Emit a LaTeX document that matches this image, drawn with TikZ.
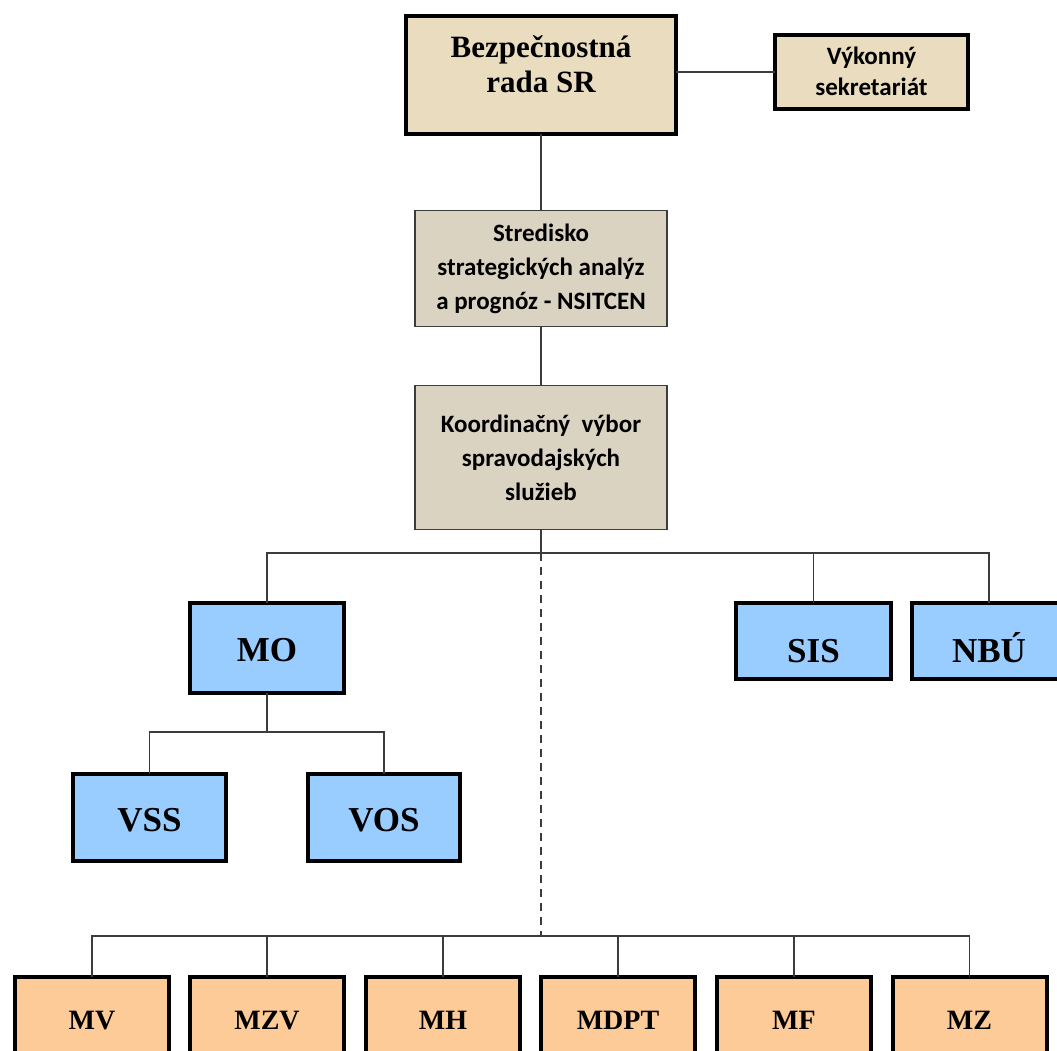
\documentclass[tikz,border=0pt]{standalone}
\usepackage{fontspec}
\setmainfont{Liberation Serif}
\newfontfamily\calib{Carlito}
\definecolor{parch}{HTML}{E9DCBF}
\definecolor{linen}{HTML}{DAD3C1}
\definecolor{skyb}{HTML}{99CCFF}
\definecolor{peach}{HTML}{FDCB98}
\definecolor{conncol}{HTML}{3C3C3C}
\begin{document}
\begin{tikzpicture}[x=1pt,y=-1pt,
  boxbase/.style={rectangle, inner sep=0pt, outer sep=0pt},
  heavybox/.style={boxbase, draw=black, line width=4pt},
  lightbox/.style={boxbase, draw=conncol, line width=1.2pt, fill=linen},
  parchbox/.style={heavybox, fill=parch},
  bluebox/.style={heavybox, fill=skyb},
  peachbox/.style={heavybox, fill=peach, minimum width=154pt, minimum height=96pt},
  seriftitle/.style={inner sep=0pt, align=center, font=\fontsize{31}{35}\selectfont\bfseries},
  sanstext/.style={inner sep=0pt, align=center, font=\calib\fontsize{25}{34}\selectfont\bfseries},
  vyktext/.style={inner sep=0pt, align=center, font=\calib\fontsize{25}{31}\selectfont\bfseries},
  bigabbr/.style={inner sep=0pt, text height=24pt, text depth=0pt, font=\fontsize{35}{40}\selectfont\bfseries},
  smallabbr/.style={inner sep=0pt, text height=19pt, text depth=0pt, font=\fontsize{28}{32}\selectfont\bfseries},
  conn/.style={draw=conncol, line width=1.3pt},
  dashconn/.style={conn, dash pattern=on 8pt off 6pt}
]
\useasboundingbox (0,0) rectangle (1057,1050);
\clip (0,0) rectangle (1057,1050);
\fill[white] (0,0) rectangle (1057,1050);

% top level
\node[parchbox, minimum width=270pt, minimum height=118pt] (top) at (541,75) {};
\node[seriftitle] (topT) at ([yshift=11pt]top.center) {Bezpečnostná\\rada SR};
\node[parchbox, minimum width=193pt, minimum height=74pt] (vyk) at (871.5,72) {};
\node[vyktext] (vykT) at ([yshift=1pt]vyk.center) {Výkonný\\sekretariát};

\node[lightbox, minimum width=252pt, minimum height=116pt] (stred) at (541,268.5) {};
\node[sanstext] (stredT) at (stred.center) {Stredisko\\strategických analýz\\a prognóz - NSITCEN};
\node[lightbox, minimum width=252pt, minimum height=144pt] (koord) at (541,457.5) {};
\node[sanstext] (koordT) at (koord.center) {Koordinačný~~výbor\\spravodajských\\služieb};

% blue level
\node[bluebox, minimum width=154pt, minimum height=90pt] (mo) at (267,648) {};
\node[bigabbr] (moT) at ([yshift=-1pt]mo.center) {MO};
\node[bluebox, minimum width=155pt, minimum height=76pt] (sis) at (813.5,641) {};
\node[bigabbr] (sisT) at ([yshift=-9pt]sis.center) {SIS};
\node[bluebox, minimum width=155pt, minimum height=76pt] (nbu) at (989,641) {};
\node[bigabbr] (nbuT) at ([yshift=-9pt]nbu.center) {NBÚ};
\node[bluebox, minimum width=153pt, minimum height=87pt] (vss) at (149.5,817.5) {};
\node[bigabbr] (vssT) at ([yshift=-2pt]vss.center) {VSS};
\node[bluebox, minimum width=152pt, minimum height=87pt] (vos) at (384,817.5) {};
\node[bigabbr] (vosT) at ([yshift=-2pt]vos.center) {VOS};

% bottom ministries
\node[peachbox] (mv) at (92,1025) {};
\node[smallabbr] (mvT) at ([yshift=5pt]mv.center) {MV};
\node[peachbox] (mzv) at (267,1025) {};
\node[smallabbr] (mzvT) at ([yshift=5pt]mzv.center) {MZV};
\node[peachbox] (mh) at (443,1025) {};
\node[smallabbr] (mhT) at ([yshift=5pt]mh.center) {MH};
\node[peachbox] (mdpt) at (618,1025) {};
\node[smallabbr] (mdptT) at ([yshift=5pt]mdpt.center) {MDPT};
\node[peachbox] (mf) at (794,1025) {};
\node[smallabbr] (mfT) at ([yshift=5pt]mf.center) {MF};
\node[peachbox] (mz) at (969.5,1025) {};
\node[smallabbr] (mzT) at ([yshift=5pt]mz.center) {MZ};

% junction coordinates
\coordinate (j1) at (541,553);
\coordinate (j2) at (267,732);
\coordinate (j3) at (541,936);

% connectors
\draw[conn] (vyk.west) -- (vyk.west -| top.east);
\draw[conn] (top.south) -- (stred.north);
\draw[conn] (stred.south) -- (koord.north);
\draw[conn] (koord.south) -- (j1);
\draw[conn] (mo.north) -- (mo.north |- j1) -- (nbu.north |- j1) -- (nbu.north);
\draw[conn] (sis.north |- j1) -- (sis.north);
\draw[dashconn] (j1) -- (j3);
\draw[conn] (mo.south) -- (j2);
\draw[conn] (vss.north) -- (vss.north |- j2) -- (vos.north |- j2) -- (vos.north);
\draw[conn] (mv.north) -- (mv.north |- j3) -- (mz.north |- j3) -- (mz.north);
\draw[conn] (mzv.north |- j3) -- (mzv.north);
\draw[conn] (mh.north |- j3) -- (mh.north);
\draw[conn] (mdpt.north |- j3) -- (mdpt.north);
\draw[conn] (mf.north |- j3) -- (mf.north);
\end{tikzpicture}
\end{document}
